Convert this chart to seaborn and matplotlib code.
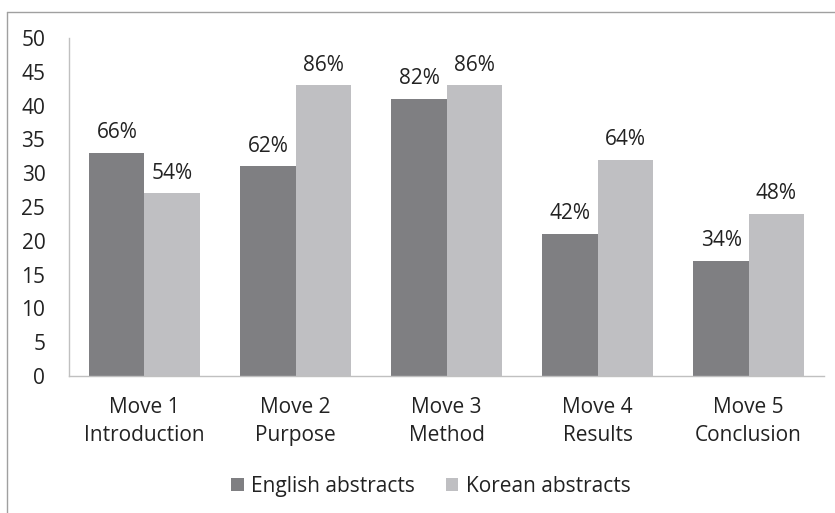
import matplotlib
matplotlib.use("Agg")
import matplotlib.pyplot as plt
import seaborn as sns
import pandas as pd
from matplotlib.patches import Patch
from matplotlib.lines import Line2D

categories = ["Move 1\nIntroduction", "Move 2\nPurpose", "Move 3\nMethod", "Move 4\nResults", "Move 5\nConclusion"]
series = ["English abstracts", "Korean abstracts"]
english = [33, 31, 41, 21, 17]
korean = [27, 43, 43, 32, 24]
english_pct = ["66%", "62%", "82%", "42%", "34%"]
korean_pct = ["54%", "86%", "86%", "64%", "48%"]
yticks = [0, 5, 10, 15, 20, 25, 30, 35, 40, 45, 50]

colors = ["#7f7f82", "#bfbfc2"]
FS = 15

df = pd.DataFrame({
    "category": categories * 2,
    "series": [series[0]] * len(categories) + [series[1]] * len(categories),
    "value": english + korean,
})

sns.set_theme(style="white")
plt.rcParams["font.family"] = ["Open Sans", "DejaVu Sans"]

fig = plt.figure(figsize=(8.35, 5.13), dpi=100)
ax = fig.add_axes([0.0826, 0.267, 0.9044, 0.659])

sns.barplot(data=df, x="category", y="value", hue="series", palette=colors,
            width=0.73, saturation=1, ax=ax, legend=False, linewidth=0)

for cont, labs in zip(ax.containers, [english_pct, korean_pct]):
    ax.bar_label(cont, labels=labs, padding=7, fontsize=FS, color="#222222")

ax.set_ylim(0, 50)
ax.set_yticks(yticks)
ax.set_xlim(-0.5, len(categories) - 0.5)
ax.set_xlabel("")
ax.set_ylabel("")
ax.tick_params(axis="y", length=0, pad=17, labelsize=FS, labelcolor="#222222")
ax.tick_params(axis="x", length=0, pad=15, labelsize=FS, labelcolor="#222222")
for lab in ax.get_xticklabels():
    lab.set_linespacing(1.45)
for s in ["top", "right"]:
    ax.spines[s].set_visible(False)
for s in ["left", "bottom"]:
    ax.spines[s].set_color("#c0c0c0")
    ax.spines[s].set_linewidth(1)

handles = [Patch(facecolor=c, edgecolor="none") for c in colors]
fig.legend(handles, series, loc="center", bbox_to_anchor=(0.516, 0.052), ncol=2,
           frameon=False, fontsize=FS, handlelength=0.62, handleheight=0.62,
           handletextpad=0.35, columnspacing=1.45, labelcolor="#222222")

# outer border (top & left visible in the crop)
fig.add_artist(Line2D([0.0084, 1.0], [0.9766, 0.9766], transform=fig.transFigure,
                      color="#a0a0a0", lw=1))
fig.add_artist(Line2D([0.0084, 0.0084], [0.0, 0.9766], transform=fig.transFigure,
                      color="#a0a0a0", lw=1))

fig.savefig("out.png", dpi=100)
